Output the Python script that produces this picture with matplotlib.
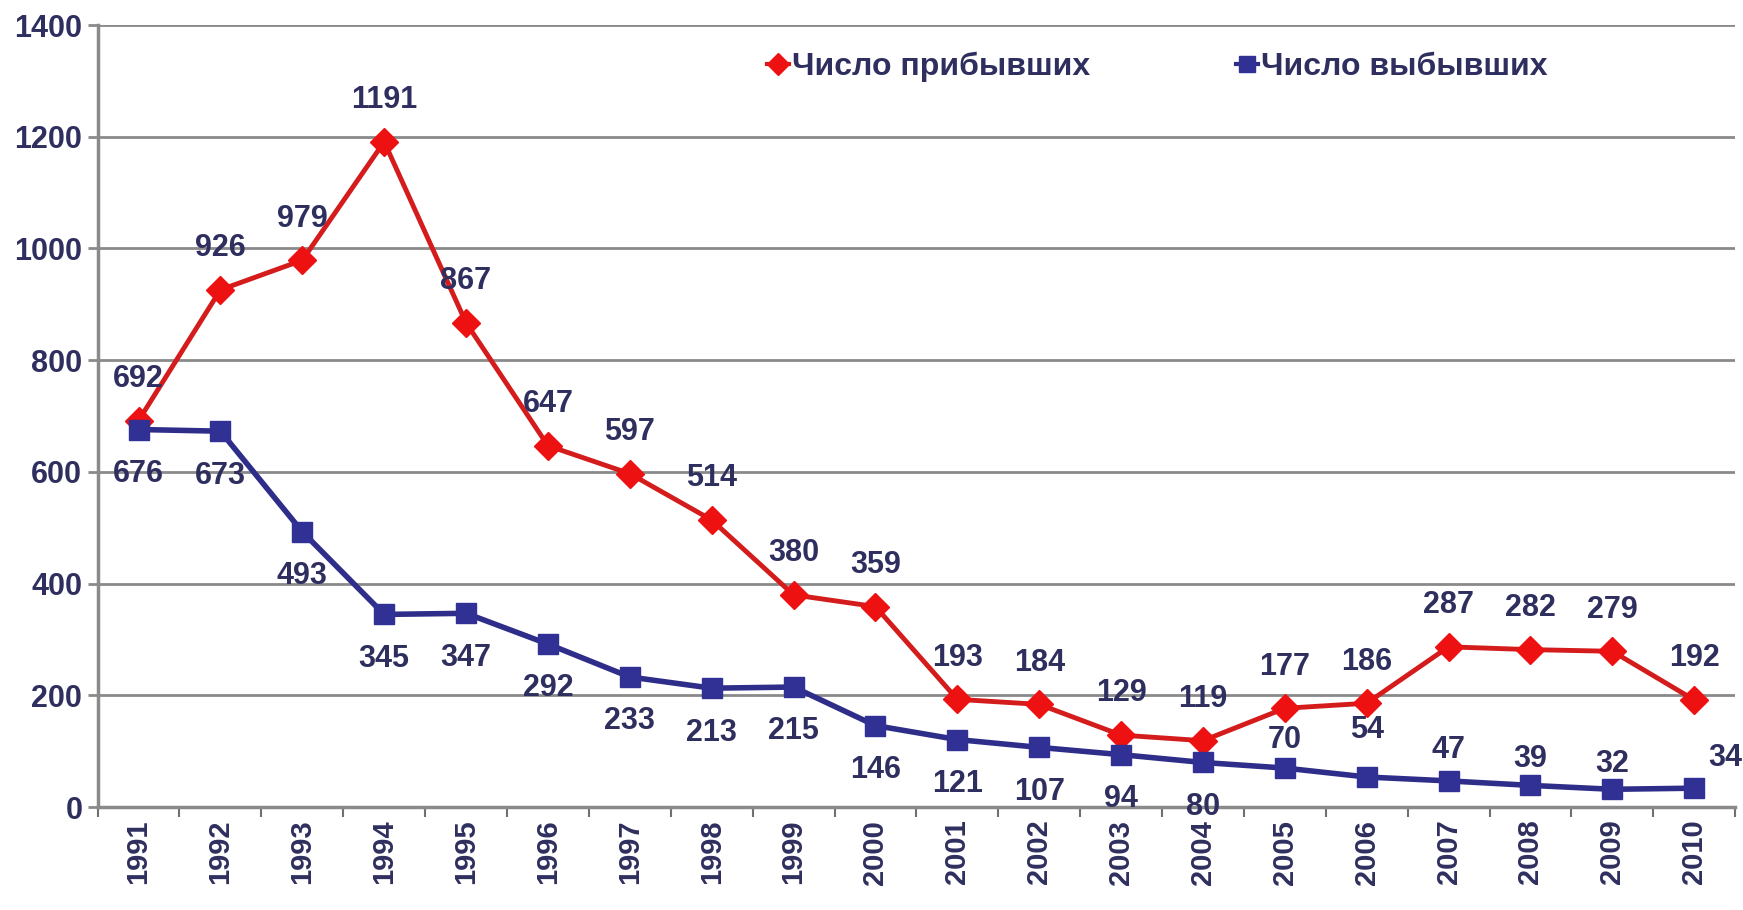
import matplotlib
matplotlib.use("Agg")
import matplotlib.pyplot as plt
from matplotlib.lines import Line2D

years = [str(y) for y in range(1991, 2011)]
arrived = [692, 926, 979, 1191, 867, 647, 597, 514, 380, 359,
           193, 184, 129, 119, 177, 186, 287, 282, 279, 192]
departed = [676, 673, 493, 345, 347, 292, 233, 213, 215, 146,
            121, 107, 94, 80, 70, 54, 47, 39, 32, 34]
arrived_name = "Число прибывших"
departed_name = "Число выбывших"

# label offsets (points) for the departed series: below for early years, above later
dep_offsets = [(0, -32)] * 14 + [(0, 20), (0, 34), (0, 22), (0, 19), (0, 18), (22, 22)]

plt.rcParams['font.family'] = ['Liberation Sans', 'DejaVu Sans']
txt = '#2f2f5f'
red = '#d41c1c'
red_m = '#ee1111'
blue = '#2e2e8a'
blue_m = '#303095'

fig = plt.figure(figsize=(17.43, 9.10), dpi=100)
ax = fig.add_axes([0.056, 0.113, 0.9395, 0.8595])

x = list(range(len(years)))
ax.plot(x, arrived, color=red, lw=3.5, marker='D', ms=14, mfc=red_m, mec=red_m, zorder=3)
ax.plot(x, departed, color=blue, lw=4, marker='s', ms=15, mfc=blue_m, mec=blue_m, zorder=3)

for i, v in enumerate(arrived):
    ax.annotate(str(v), (i, v), xytext=(0, 30), textcoords='offset points',
                ha='center', va='center', fontsize=22, fontweight='bold', color=txt,
                annotation_clip=False)
for i, v in enumerate(departed):
    ax.annotate(str(v), (i, v), xytext=dep_offsets[i], textcoords='offset points',
                ha='center', va='center', fontsize=22, fontweight='bold', color=txt,
                annotation_clip=False)

ax.set_xlim(-0.5, len(years) - 0.5)
ax.set_ylim(0, 1400)
ax.set_yticks(range(0, 1401, 200))
ax.yaxis.grid(True, color='#8a8a8a', lw=2)
ax.set_axisbelow(True)

ax.set_xticks(x)
ax.set_xticklabels(years, rotation=90, fontsize=21, fontweight='bold', color=txt)
ax.set_xticks([i - 0.5 for i in range(len(years) + 1)], minor=True)
ax.tick_params(axis='x', which='major', length=0, pad=9)
ax.tick_params(axis='x', which='minor', length=7, width=1.5, color='#707070')
ax.tick_params(axis='y', length=7, width=2, color='#8a8a8a', pad=4, labelsize=22)
for lab in ax.get_yticklabels():
    lab.set_fontweight('bold')
    lab.set_color(txt)

for s in ['top', 'right']:
    ax.spines[s].set_visible(False)
ax.spines['left'].set_color('#8a8a8a')
ax.spines['left'].set_linewidth(2.5)
ax.spines['bottom'].set_color('#8a8a8a')
ax.spines['bottom'].set_linewidth(2.5)

handles = [
    Line2D([], [], color=red, lw=3, marker='D', ms=11, mfc=red_m, mec=red_m),
    Line2D([], [], color=blue, lw=3, marker='s', ms=11, mfc=blue_m, mec=blue_m),
]
leg = ax.legend(handles, [arrived_name, departed_name], loc='center left',
                bbox_to_anchor=(0.391, 0.946), ncol=2, frameon=False,
                handlelength=0.7, handletextpad=0.1, columnspacing=4.55,
                prop={'size': 23, 'weight': 'bold'})
for t in leg.get_texts():
    t.set_color(txt)

fig.savefig('out.png', dpi=100)
